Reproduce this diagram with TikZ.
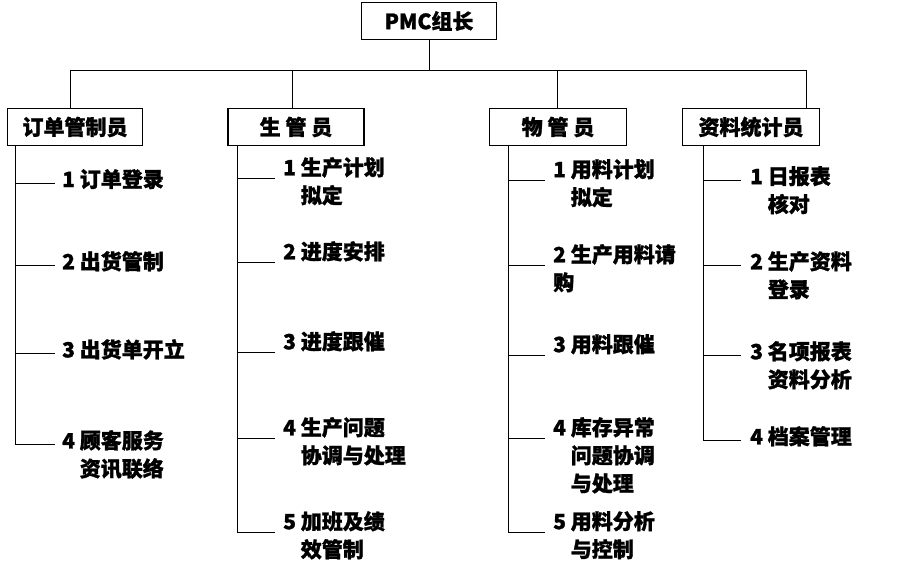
\documentclass[tikz,border=0pt]{standalone}
\usepackage{fontspec}
\setmainfont{Noto Sans CJK SC}[FakeBold=1.2]
\begin{document}
\begin{tikzpicture}[x=1pt,y=-1pt,
  box/.style={draw,line width=1.4pt,minimum height=37pt,inner sep=0pt,font=\bfseries\fontsize{21}{22}\selectfont},
  item/.style={anchor=north west,inner sep=0pt,align=left,font=\bfseries\fontsize{21}{28}\selectfont}]
  \useasboundingbox (0,0) rectangle (902,585);

  \node[box,minimum width=135pt] (pmc) at (429,21) {PMC组长};
  \node[box,minimum width=135pt] (ddy) at (75,127) {订单管制员};
  \node[box,minimum width=136pt] (sgy) at (296,127) {生\ 管\ 员};
  \node[box,minimum width=137pt] (wgy) at (558,127) {物\ 管\ 员};
  \node[box,minimum width=137pt] (zly) at (751,127) {资料统计员};

  \coordinate (bus) at (429,70);
  \draw (pmc.south) -- (bus);
  \draw (70,70) -- (806,70);
  \draw (70,70) -- (70,108);
  \draw (292,70) -- (292,108);
  \draw (557,70) -- (557,108);
  \draw (806,70) -- (806,108);

  % 订单管制员
  \draw (15,146) -- (15,444);
  \foreach \y/\t [count=\i] in {183/{1 订单登录},265/{2 出货管制},353/{3 出货单开立},444/{4 顾客服务\\\hphantom{4 }资讯联络}}{
    \node[item] (d\i) at (62,\y-14) {\t};
    \draw (15,\y) -- (55,\y);
  }

  % 生管员
  \draw (237,146) -- (237,532);
  \foreach \y/\t [count=\i] in {178/{1 生产计划\\\hphantom{1 }拟定},262/{2 进度安排},352/{3 进度跟催},438/{4 生产问题\\\hphantom{4 }协调与处理},532/{5 加班及绩\\\hphantom{5 }效管制}}{
    \node[item] (s\i) at (283,\y-21) {\t};
    \draw (237,\y) -- (275,\y);
  }

  % 物管员
  \draw (508,146) -- (508,532);
  \foreach \y/\t [count=\i] in {180/{1 用料计划\\\hphantom{1 }拟定},265/{2 生产用料请\\购},355/{3 用料跟催},438/{4 库存异常\\\hphantom{4 }问题协调\\\hphantom{4 }与处理},532/{5 用料分析\\\hphantom{5 }与控制}}{
    \node[item] (w\i) at (553,\y-21) {\t};
    \draw (508,\y) -- (545,\y);
  }

  % 资料统计员
  \draw (703,146) -- (703,440);
  \foreach \y/\t [count=\i] in {180/{1 日报表\\\hphantom{1 }核对},265/{2 生产资料\\\hphantom{2 }登录},355/{3 名项报表\\\hphantom{3 }资料分析},440/{4 档案管理}}{
    \node[item] (z\i) at (750,\y-14) {\t};
    \draw (703,\y) -- (741,\y);
  }
\end{tikzpicture}
\end{document}
